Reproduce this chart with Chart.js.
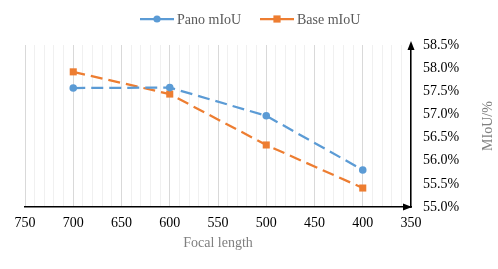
<!DOCTYPE html>
<html>
<head>
<meta charset="utf-8">
<script src="https://cdn.jsdelivr.net/npm/chart.js@4"></script>
<style>
html,body{margin:0;padding:0;background:#fff;}
#wrap{width:498px;height:269px;position:relative;}
</style>
</head>
<body>
<div id="wrap"><canvas id="c" width="498" height="269"></canvas></div>
<script>
const focalLengths = [700, 600, 500, 400];
const panoMIoU = [57.57, 57.58, 56.97, 55.80];
const baseMIoU = [57.92, 57.44, 56.34, 55.41];
const seriesNames = ['Pano mIoU', 'Base mIoU'];
const xTitle = 'Focal length';
const yTitle = 'MIoU/%';

const BLUE = '#5B9BD5', ORANGE = '#ED7D31';
const FONT = '"Liberation Serif", "Times New Roman", serif';

const decor = {
  id: 'decor',
  afterDraw(chart) {
    const ctx = chart.ctx, a = chart.chartArea;
    ctx.save();
    // arrows
    ctx.fillStyle = '#000';
    ctx.beginPath();
    ctx.moveTo(a.right, a.top - 4);
    ctx.lineTo(a.right - 3.5, a.top + 5);
    ctx.lineTo(a.right + 3.5, a.top + 5);
    ctx.closePath(); ctx.fill();
    ctx.beginPath();
    ctx.moveTo(a.right + 1, a.bottom);
    ctx.lineTo(a.right - 8, a.bottom - 3.5);
    ctx.lineTo(a.right - 8, a.bottom + 3.5);
    ctx.closePath(); ctx.fill();
    // titles
    ctx.fillStyle = '#7f7f7f';
    ctx.font = '14px ' + FONT;
    ctx.textAlign = 'center'; ctx.textBaseline = 'middle';
    ctx.fillText(xTitle, (a.left + a.right) / 2, 243);
    ctx.save();
    ctx.translate(488, (a.top + a.bottom) / 2);
    ctx.rotate(-Math.PI / 2);
    ctx.fillText(yTitle, 0, 0);
    ctx.restore();
    // legend
    const items = [
      {name: seriesNames[0], color: BLUE, x: 140, shape: 'circle'},
      {name: seriesNames[1], color: ORANGE, x: 260, shape: 'rect'}
    ];
    const ly = 19;
    items.forEach(it => {
      ctx.strokeStyle = it.color; ctx.lineWidth = 2.25;
      ctx.beginPath(); ctx.moveTo(it.x, ly); ctx.lineTo(it.x + 34, ly); ctx.stroke();
      ctx.fillStyle = it.color;
      if (it.shape === 'circle') {
        ctx.beginPath(); ctx.arc(it.x + 17, ly, 3.6, 0, Math.PI * 2); ctx.fill();
      } else {
        ctx.fillRect(it.x + 17 - 3.6, ly - 3.6, 7.2, 7.2);
      }
      ctx.fillStyle = '#595959';
      ctx.textAlign = 'left';
      ctx.fillText(it.name, it.x + 37, ly + 1);
    });
    ctx.restore();
  }
};

new Chart(document.getElementById('c'), {
  type: 'line',
  data: {
    datasets: [
      {
        label: seriesNames[0],
        data: focalLengths.map((f, i) => ({x: f, y: panoMIoU[i]})),
        borderColor: BLUE, backgroundColor: BLUE,
        borderWidth: 2.25, borderDash: [12, 6],
        pointStyle: 'circle', pointRadius: 3.8, pointBorderWidth: 0,
        tension: 0, fill: false
      },
      {
        label: seriesNames[1],
        data: focalLengths.map((f, i) => ({x: f, y: baseMIoU[i]})),
        borderColor: ORANGE, backgroundColor: ORANGE,
        borderWidth: 2.25, borderDash: [12, 6],
        pointStyle: 'rect', pointRadius: 5, pointBorderWidth: 0,
        tension: 0, fill: false
      }
    ]
  },
  options: {
    responsive: false,
    animation: false,
    devicePixelRatio: 1,
    layout: {padding: {top: 45, left: 25, right: 0, bottom: 0}},
    plugins: {legend: {display: false}, tooltip: {enabled: false}},
    scales: {
      x: {
        type: 'linear', reverse: true, min: 350, max: 750,
        afterFit(s) { s.height = 62; },
        ticks: {
          stepSize: 10, autoSkip: false, maxRotation: 0, padding: 8,
          color: '#000', font: {family: FONT, size: 14},
          callback: v => (v % 50 === 0 ? String(v) : '')
        },
        grid: {
          drawTicks: false,
          color: c => (c.tick && c.tick.value % 50 === 0 ? '#d9d9d9' : '#f0f0f0'),
          lineWidth: 1
        },
        border: {color: '#000', width: 1.5}
      },
      y: {
        type: 'linear', position: 'right', min: 55, max: 58.5,
        afterFit(s) { s.width = 87; },
        ticks: {
          stepSize: 0.5, padding: 12, color: '#000',
          font: {family: FONT, size: 14},
          callback: v => v.toFixed(1) + '%'
        },
        grid: {display: false, drawTicks: false},
        border: {color: '#000', width: 1.5}
      }
    }
  },
  plugins: [decor]
});
</script>
</body>
</html>
